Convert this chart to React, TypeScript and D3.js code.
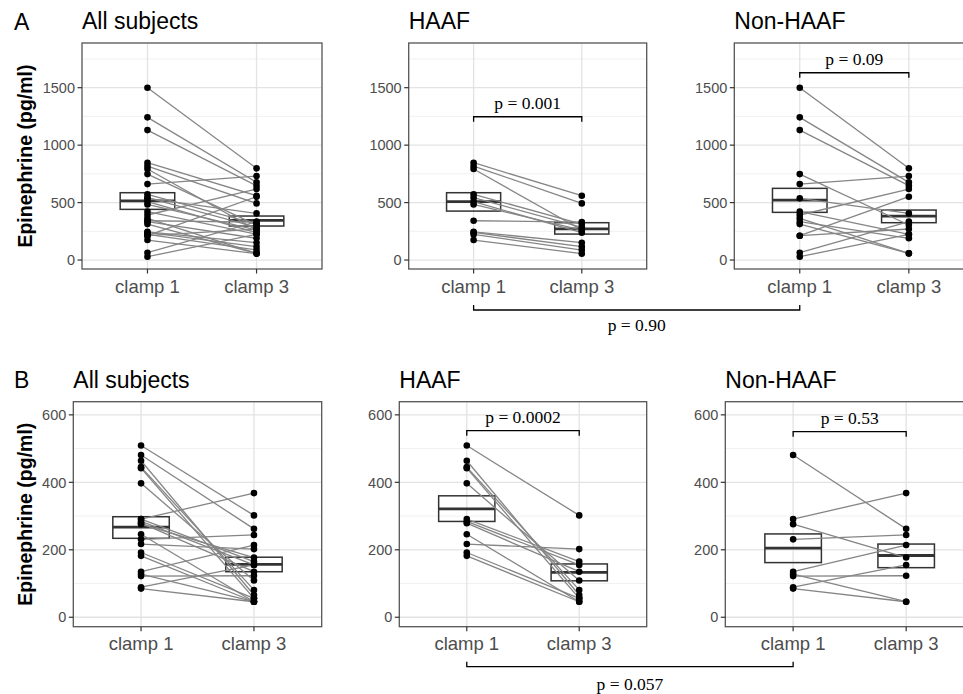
import React from 'react';
import * as d3 from 'd3';

// ---------- data ----------
const clampLabels = ['clamp 1', 'clamp 3'];
const rowLetters = ['A', 'B'];
const panelTitles = ['All subjects', 'HAAF', 'Non-HAAF'];
const yAxisTitle = 'Epinephrine (pg/ml)';

const aMajorTicks = [0, 500, 1000, 1500];
const aMinorTicks = [250, 750, 1250, 1750];
const bMajorTicks = [0, 200, 400, 600];
const bMinorTicks = [100, 300, 500];

// Panel A (paired values per subject)
const aHaafClamp1 = [847, 818, 792, 572, 543, 508, 484, 342, 246, 240, 223, 174];
const aHaafClamp3 = [560, 493, 261, 313, 285, 238, 261, 330, 151, 116, 87, 55];
const aNonClamp1 = [1500, 1242, 1131, 748, 661, 537, 421, 392, 363, 334, 313, 212, 212, 64, 29];
const aNonClamp3 = [798, 676, 647, 305, 731, 406, 224, 618, 58, 189, 58, 551, 270, 334, 224];
const aAllClamp1 = [...aHaafClamp1, ...aNonClamp1];
const aAllClamp3 = [...aHaafClamp3, ...aNonClamp3];

// Panel B
const bHaafClamp1 = [509, 464, 445, 442, 397, 291, 284, 279, 246, 217, 192, 182];
const bHaafClamp3 = [302, 66, 81, 56, 109, 165, 155, 135, 46, 202, 56, 46];
const bNonClamp1 = [481, 291, 276, 231, 135, 128, 122, 89, 85];
const bNonClamp3 = [262, 368, 177, 244, 214, 46, 123, 155, 46];
const bAllClamp1 = [...bHaafClamp1, ...bNonClamp1];
const bAllClamp3 = [...bHaafClamp3, ...bNonClamp3];

// crossbar summaries [lower, middle, upper] for clamp 1 and clamp 3
const aAllBox = [[441, 515, 586], [296, 345, 383]];
const aHaafBox = [[426, 508, 586], [226, 272, 325]];
const aNonBox = [[415, 522, 624], [325, 383, 435]];
const bAllBox = [[234, 267, 298], [135, 157, 178]];
const bHaafBox = [[284, 321, 360], [108, 133, 158]];
const bNonBox = [[162, 205, 247], [147, 183, 217]];

// p-values
const withinP = ['p = 0.001', 'p = 0.09', 'p = 0.0002', 'p = 0.53'];
const withinBracketLevel = [1247, 1630, 553, 550];
const betweenP = ['p = 0.90', 'p = 0.057'];

// ---------- layout ----------
const SANS = '"Liberation Sans", Arial, sans-serif';
const SERIF = '"Liberation Serif", "Times New Roman", serif';

type PanelSpec = {
  left: number; right: number; top: number; bottom: number;
  domain: [number, number]; major: number[]; minor: number[];
  c1: number[]; c3: number[]; box: number[][]; title: string;
  bracket?: { level: number; label: string };
  showYTitle: boolean;
};

const rowA = { top: 43, bottom: 269, domain: [-78, 1889] as [number, number] };
const rowB = { top: 401.7, bottom: 626.7, domain: [-28, 639] as [number, number] };

const panels: PanelSpec[] = [
  { left: 82, right: 322, ...rowA, major: aMajorTicks, minor: aMinorTicks, c1: aAllClamp1, c3: aAllClamp3, box: aAllBox, title: panelTitles[0], showYTitle: true },
  { left: 408.7, right: 646.7, ...rowA, major: aMajorTicks, minor: aMinorTicks, c1: aHaafClamp1, c3: aHaafClamp3, box: aHaafBox, title: panelTitles[1], bracket: { level: withinBracketLevel[0], label: withinP[0] }, showYTitle: false },
  { left: 734.3, right: 974.3, ...rowA, major: aMajorTicks, minor: aMinorTicks, c1: aNonClamp1, c3: aNonClamp3, box: aNonBox, title: panelTitles[2], bracket: { level: withinBracketLevel[1], label: withinP[1] }, showYTitle: false },
  { left: 73.3, right: 321.7, ...rowB, major: bMajorTicks, minor: bMinorTicks, c1: bAllClamp1, c3: bAllClamp3, box: bAllBox, title: panelTitles[0], showYTitle: true },
  { left: 399.3, right: 646.7, ...rowB, major: bMajorTicks, minor: bMinorTicks, c1: bHaafClamp1, c3: bHaafClamp3, box: bHaafBox, title: panelTitles[1], bracket: { level: withinBracketLevel[2], label: withinP[2] }, showYTitle: false },
  { left: 725.3, right: 974, ...rowB, major: bMajorTicks, minor: bMinorTicks, c1: bNonClamp1, c3: bNonClamp3, box: bNonBox, title: panelTitles[2], bracket: { level: withinBracketLevel[3], label: withinP[3] }, showYTitle: false },
];

function scalesFor(p: PanelSpec) {
  const x = d3.scalePoint<string>().domain(clampLabels).range([p.left, p.right]).padding(0.6);
  const y = d3.scaleLinear().domain(p.domain).range([p.bottom, p.top]);
  return { x, y };
}

function Panel({ p }: { p: PanelSpec }) {
  const { x, y } = scalesFor(p);
  const step = x.step();
  const pairs = p.c1.map((v, i) => [v, p.c3[i]]);
  const line = d3.line<[string, number]>().x(d => x(d[0]) as number).y(d => y(d[1]));
  return (
    <g>
      {/* grid */}
      {p.minor.map(t => (
        <line key={'mn' + t} x1={p.left} x2={p.right} y1={y(t)} y2={y(t)} stroke="#ececec" strokeWidth={0.8} />
      ))}
      {p.major.map(t => (
        <line key={'mj' + t} x1={p.left} x2={p.right} y1={y(t)} y2={y(t)} stroke="#e3e3e3" strokeWidth={1.3} />
      ))}
      {clampLabels.map(c => (
        <line key={'vx' + c} x1={x(c)} x2={x(c)} y1={p.top} y2={p.bottom} stroke="#e3e3e3" strokeWidth={1.3} />
      ))}
      {/* crossbars */}
      {clampLabels.map((c, i) => {
        const [lo, mid, hi] = p.box[i];
        const cx = x(c) as number;
        return (
          <g key={'bx' + c}>
            <rect x={cx - step * 0.25} width={step * 0.5} y={y(hi)} height={y(lo) - y(hi)} fill="none" stroke="#333333" strokeWidth={1.5} />
            <line x1={cx - step * 0.25} x2={cx + step * 0.25} y1={y(mid)} y2={y(mid)} stroke="#333333" strokeWidth={2.8} />
          </g>
        );
      })}
      {/* paired lines */}
      {pairs.map((pr, i) => (
        <path key={'ln' + i} d={line([[clampLabels[0], pr[0]], [clampLabels[1], pr[1]]]) || ''} stroke="#858585" strokeWidth={1.3} fill="none" />
      ))}
      {/* points */}
      {pairs.map((pr, i) => (
        <g key={'pt' + i}>
          <circle cx={x(clampLabels[0])} cy={y(pr[0])} r={3.3} fill="#000" />
          <circle cx={x(clampLabels[1])} cy={y(pr[1])} r={3.3} fill="#000" />
        </g>
      ))}
      {/* border */}
      <rect x={p.left} y={p.top} width={p.right - p.left} height={p.bottom - p.top} fill="none" stroke="#555555" strokeWidth={1.3} />
      {/* y axis */}
      {p.major.map(t => (
        <g key={'yt' + t}>
          <line x1={p.left - 4.5} x2={p.left} y1={y(t)} y2={y(t)} stroke="#333333" strokeWidth={1.2} />
          <text x={p.left - 7} y={y(t)} dy="0.36em" textAnchor="end" fontSize={14.5} fill="#4d4d4d" fontFamily={SANS}>{t}</text>
        </g>
      ))}
      {/* x axis */}
      {clampLabels.map(c => (
        <g key={'xt' + c}>
          <line x1={x(c)} x2={x(c)} y1={p.bottom} y2={p.bottom + 4.5} stroke="#333333" strokeWidth={1.2} />
          <text x={x(c)} y={p.bottom + 23.5} textAnchor="middle" fontSize={18.5} fill="#4d4d4d" fontFamily={SANS}>{c}</text>
        </g>
      ))}
      {/* title */}
      <text x={p.left} y={p.top - 14} fontSize={23} fill="#000" fontFamily={SANS}>{p.title}</text>
      {p.showYTitle && (
        <text transform={`translate(32, ${(p.top + p.bottom) / 2}) rotate(-90)`} textAnchor="middle" fontSize={19.5} fontWeight="bold" fill="#000" fontFamily={SANS}>{yAxisTitle}</text>
      )}
      {/* within bracket */}
      {p.bracket && (() => {
        const by = y(p.bracket.level);
        const x1 = x(clampLabels[0]) as number;
        const x2 = x(clampLabels[1]) as number;
        return (
          <g>
            <path d={`M${x1},${by + 5}V${by}H${x2}V${by + 5}`} fill="none" stroke="#000" strokeWidth={1.3} />
            <text x={(x1 + x2) / 2} y={by - 7.5} textAnchor="middle" fontSize={17.5} fontFamily={SERIF} fill="#000">{p.bracket.label}</text>
          </g>
        );
      })()}
    </g>
  );
}

function Between({ a, b, label, yLine, yText }: { a: PanelSpec; b: PanelSpec; label: string; yLine: number; yText: number }) {
  const xa = scalesFor(a).x(clampLabels[0]) as number;
  const xb = scalesFor(b).x(clampLabels[0]) as number;
  return (
    <g>
      <path d={`M${xa},${yLine - 5}V${yLine}H${xb}V${yLine - 5}`} fill="none" stroke="#000" strokeWidth={1.3} />
      <text x={(xa + xb) / 2} y={yText} textAnchor="middle" fontSize={17.5} fontFamily={SERIF} fill="#000">{label}</text>
    </g>
  );
}

export default function App() {
  return (
    <>
      <style>{`body{margin:0;background:#fff}`}</style>
      <svg width={963} height={694} style={{ display: 'block' }}>
        <rect width={963} height={694} fill="#fff" />
        {panels.map((p, i) => <Panel key={i} p={p} />)}
        <text x={14} y={29.5} fontSize={23} fontFamily={SANS} fill="#000">{rowLetters[0]}</text>
        <text x={14} y={387.5} fontSize={23} fontFamily={SANS} fill="#000">{rowLetters[1]}</text>
        <Between a={panels[1]} b={panels[2]} label={betweenP[0]} yLine={310} yText={331} />
        <Between a={panels[4]} b={panels[5]} label={betweenP[1]} yLine={666.7} yText={689.5} />
      </svg>
    </>
  );
}
